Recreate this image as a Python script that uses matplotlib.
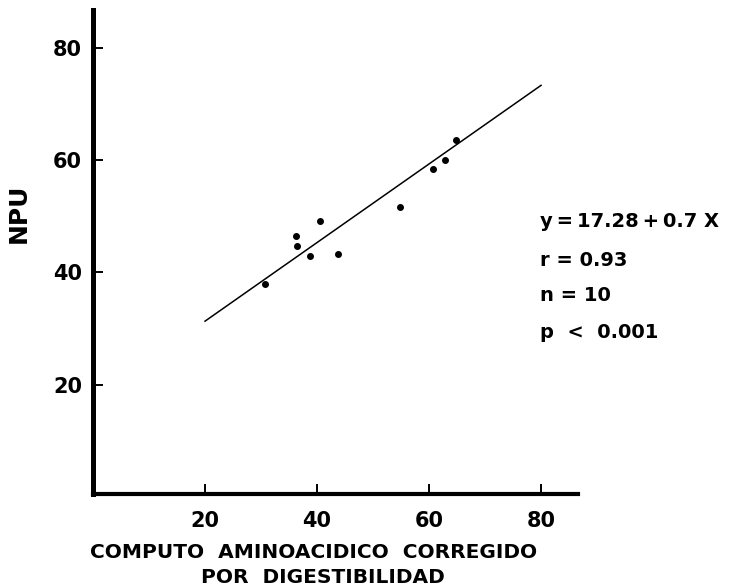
import numpy as np
import matplotlib
matplotlib.use("Agg")
import matplotlib.pyplot as plt

# ========== DATA ==========

computo = [30.7, 36.2, 36.4, 38.8, 40.6, 43.8, 54.9, 60.7, 62.8, 64.9]
npu     = [37.9, 46.5, 44.7, 42.9, 49.2, 43.3, 51.7, 58.3, 59.9, 63.6]

intercept = 17.28
slope     = 0.7
fit_range = [20, 80]

x_ticks = [20, 40, 60, 80]
y_ticks = [20, 40, 60, 80]

stats_lines = ["y\u2009=\u200917.28\u2009+\u20090.7 X", "r = 0.93", "n = 10",
               "p  <  0.001"]

# ========== PLOT ==========

fig = plt.figure(figsize=(7.3, 5.87), dpi=100)
ax = fig.add_axes([0.1274, 0.1584, 0.6644, 0.8246])

x_fit = np.array(fit_range)
ax.plot(x_fit, intercept + slope * x_fit, color="black", linewidth=1.1)
ax.plot(computo, npu, "o", color="black", markersize=4)

ax.set_xlim(0, 86.6)
ax.set_ylim(0.5, 86.7)
ax.set_xticks(x_ticks)
ax.set_yticks(y_ticks)

for side in ["top", "right"]:
    ax.spines[side].set_visible(False)
ax.spines["left"].set_linewidth(3.6)
ax.spines["bottom"].set_linewidth(3.0)

ax.tick_params(axis="both", direction="in", length=7, width=1.4, labelsize=15)
ax.tick_params(axis="x", pad=12)
ax.tick_params(axis="y", pad=8)
for lbl in ax.get_xticklabels() + ax.get_yticklabels():
    lbl.set_fontweight("bold")

# axis titles
fig.text(0.025, 0.637, "NPU", rotation=90, ha="center", va="center",
         fontsize=18, fontweight="bold")
fig.text(0.43, 0.0596, "COMPUTO  AMINOACIDICO  CORREGIDO", ha="center",
         va="center", fontsize=14.5, fontweight="bold")
fig.text(0.442, 0.017, "POR  DIGESTIBILIDAD", ha="center", va="center",
         fontsize=14.5, fontweight="bold")

# regression stats
for txt, yy in zip(stats_lines, [0.622, 0.557, 0.497, 0.433]):
    fig.text(0.740, yy, txt, ha="left", va="center", fontsize=14,
             fontweight="bold")

fig.savefig("out.png", dpi=100)
